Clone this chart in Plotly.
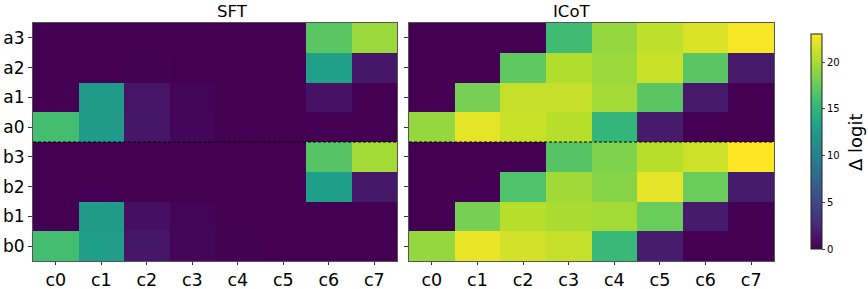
import plotly.graph_objects as go

rows = ["a3", "a2", "a1", "a0", "b3", "b2", "b1", "b0"]
cols = ["c0", "c1", "c2", "c3", "c4", "c5", "c6", "c7"]

sft = [
    [0.0, 0.0, 0.0, 0.0, 0.0, 0.0, 17.0, 19.5],
    [0.0, 0.0, 0.05, 0.0, 0.0, 0.0, 13.0, 1.4],
    [0.0, 12.5, 1.3, 0.25, 0.0, 0.0, 1.1, 0.0],
    [16.0, 12.5, 1.4, 0.35, 0.0, 0.0, 0.0, 0.0],
    [0.0, 0.0, 0.0, 0.0, 0.0, 0.0, 16.8, 19.8],
    [0.0, 0.0, 0.0, 0.0, 0.0, 0.0, 12.8, 1.5],
    [0.0, 12.5, 1.0, 0.25, 0.0, 0.0, 0.0, 0.0],
    [16.0, 12.7, 1.4, 0.35, 0.05, 0.0, 0.0, 0.0],
]

icot = [
    [0.0, 0.0, 0.0, 15.8, 19.3, 20.8, 21.8, 22.8],
    [0.0, 0.0, 17.2, 20.3, 19.5, 21.2, 17.0, 1.6],
    [0.0, 18.2, 21.0, 21.0, 19.8, 17.0, 1.6, 0.0],
    [19.3, 22.2, 21.2, 20.5, 15.2, 1.7, 0.0, 0.0],
    [0.0, 0.0, 0.0, 16.8, 18.5, 20.5, 21.3, 23.0],
    [0.0, 0.0, 16.5, 19.7, 18.8, 22.2, 17.7, 1.7],
    [0.0, 18.2, 20.5, 20.0, 19.8, 17.7, 1.7, 0.0],
    [19.3, 22.3, 21.5, 21.0, 15.5, 1.8, 0.0, 0.0],
]

titles = ["SFT", "ICoT"]
cbar_ticks = [0, 5, 10, 15, 20]
zmax = 23.0

FONT = "DejaVu Sans"
W, H = 868, 289

xi = list(range(len(cols)))
yi = list(range(len(rows)))

fig = go.Figure()
fig.add_trace(go.Heatmap(z=sft, x=xi, y=yi, coloraxis="coloraxis",
                         xaxis="x", yaxis="y", hoverinfo="skip"))
fig.add_trace(go.Heatmap(z=icot, x=xi, y=yi, coloraxis="coloraxis",
                         xaxis="x2", yaxis="y2", hoverinfo="skip"))

ydom = [1 - 261 / H, 1 - 23 / H]
x1dom = [33 / W, 397 / W]
x2dom = [409 / W, 774 / W]

common_x = dict(tickmode="array", tickvals=xi, ticktext=cols, ticks="outside",
                ticklen=3, tickcolor="#333", tickfont=dict(family=FONT, size=17.5, color="black"),
                showgrid=False, zeroline=False, showline=True, mirror=True,
                linecolor="#555", linewidth=1, range=[-0.5, 7.5], automargin=False)
common_y = dict(tickmode="array", tickvals=yi, ticks="outside", ticklen=4,
                tickcolor="#333", tickfont=dict(family=FONT, size=17, color="black"),
                showgrid=False, zeroline=False, showline=True, mirror=True,
                linecolor="#555", linewidth=1, range=[7.5, -0.5], automargin=False,
                domain=ydom)

fig.update_layout(
    width=W, height=H,
    margin=dict(l=0, r=0, t=0, b=0),
    paper_bgcolor="white", plot_bgcolor="white",
    xaxis=dict(domain=x1dom, anchor="y", **common_x),
    yaxis=dict(anchor="x", ticktext=rows, **common_y),
    xaxis2=dict(domain=x2dom, anchor="y2", **common_x),
    yaxis2=dict(anchor="x2", ticktext=[""] * len(rows), **common_y),
    coloraxis=dict(
        colorscale="Viridis", cmin=0, cmax=zmax,
        colorbar=dict(
            x=811 / W, xanchor="left", y=1 - 249 / H, yanchor="bottom",
            len=(249 - 34) / H, lenmode="fraction", thickness=11,
            thicknessmode="pixels", xpad=0, ypad=0,
            outlinewidth=1, outlinecolor="#222",
            tickmode="array", tickvals=cbar_ticks, ticks="outside", ticklen=3,
            tickfont=dict(family=FONT, size=10, color="black"),
        ),
    ),
    showlegend=False,
)

for i, t in enumerate(titles):
    dom = x1dom if i == 0 else x2dom
    fig.add_annotation(text=t, x=(dom[0] + dom[1]) / 2, y=ydom[1], xref="paper",
                       yref="paper", yanchor="bottom", yshift=0, showarrow=False,
                       font=dict(family=FONT, size=16.5, color="black"))

for xr, yr in (("x", "y"), ("x2", "y2")):
    fig.add_shape(type="line", xref=f"{xr} domain", yref=yr, x0=0, x1=1,
                  y0=3.5, y1=3.5, line=dict(color="black", width=1, dash="3px,2px"))

fig.add_annotation(text="Δ logit", x=855 / W, y=1 - 142 / H, xref="paper", yref="paper",
                   xanchor="center", yanchor="middle",
                   textangle=-90, showarrow=False,
                   font=dict(family=FONT, size=18, color="black"))

fig.write_html("out.html", post_script="document.body.style.margin='0px';",
               config={"displayModeBar": False})
